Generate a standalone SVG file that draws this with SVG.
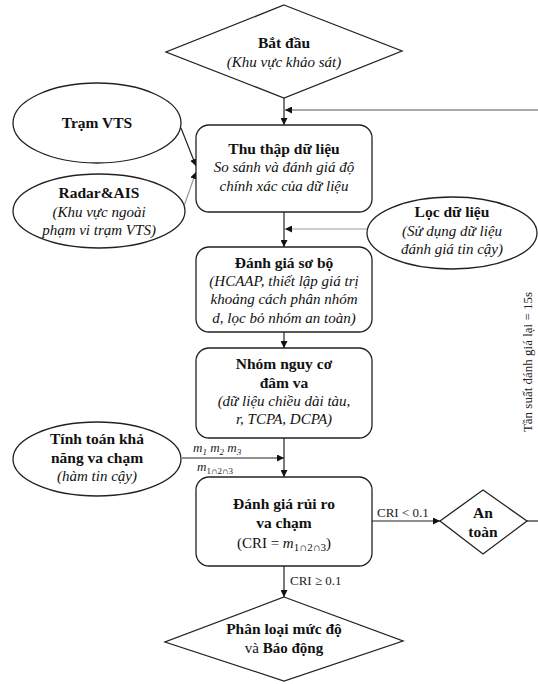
<svg xmlns="http://www.w3.org/2000/svg" width="538" height="684" viewBox="0 0 538 684">
<style>
.sh{fill:#fff;stroke:#222;stroke-width:1.3}
.c{stroke:#222;stroke-width:1.2;fill:none}
.g{stroke:#9a9a9a}
.g2{stroke:#555}
.lab{font-family:"Liberation Serif","Times New Roman",serif;font-size:13px;fill:#222}
.nt{font-family:"Liberation Serif","Times New Roman",serif;font-size:15px;fill:#111;text-anchor:middle}
.nb{font-family:"Liberation Serif","Times New Roman",serif;font-size:15.5px;font-weight:bold;fill:#111;text-anchor:middle}
.ni{font-family:"Liberation Serif","Times New Roman",serif;font-size:15px;font-style:italic;fill:#111;text-anchor:middle}
</style>
<defs>
<marker id="ah" viewBox="0 0 10 10" refX="10" refY="5" markerWidth="7" markerHeight="7" markerUnits="userSpaceOnUse" orient="auto">
<path d="M0,0 L10,5 L0,10 z" fill="#111"/>
</marker>
</defs>
<rect width="538" height="684" fill="#fff"/>
<g id="connectors">
<line class="c" x1="284" y1="98" x2="284" y2="125" marker-end="url(#ah)"/>
<line class="c g2" x1="538" y1="110" x2="285" y2="110" marker-end="url(#ah)"/>
<line class="c" x1="181" y1="128" x2="196" y2="166" marker-end="url(#ah)"/>
<line class="c g" x1="184" y1="206" x2="196" y2="172" marker-end="url(#ah)"/>
<line class="c" x1="284" y1="212" x2="284" y2="247" marker-end="url(#ah)"/>
<line class="c g" x1="367" y1="229" x2="285" y2="229" marker-end="url(#ah)"/>
<line class="c" x1="284" y1="332" x2="284" y2="348" marker-end="url(#ah)"/>
<line class="c" x1="284" y1="438" x2="284" y2="477" marker-end="url(#ah)"/>
<line class="c" x1="182" y1="458" x2="284" y2="458" marker-end="url(#ah)"/>
<line class="c" x1="372" y1="521" x2="440" y2="521" marker-end="url(#ah)"/>
<line class="c" x1="527" y1="521" x2="538" y2="521"/>
<line class="c" x1="284" y1="566" x2="284" y2="597" marker-end="url(#ah)"/>
<text class="lab" font-style="italic" x="193" y="452">m<tspan font-size="9" dy="3">1</tspan><tspan dy="-3"> m</tspan><tspan font-size="9" dy="3">2</tspan><tspan dy="-3"> m</tspan><tspan font-size="9" dy="3">3</tspan></text>
<text class="lab" font-style="italic" x="197" y="471">m<tspan font-size="9" dy="3" font-style="normal">1∩2∩3</tspan></text>
<text class="lab" x="377" y="517">CRI &lt; 0.1</text>
<text class="lab" x="290" y="585">CRI ≥ 0.1</text>
<text class="lab" transform="translate(532,362) rotate(-90)" text-anchor="middle">Tần suất đánh giá lại = 15s</text>
</g>
<g id="start">
<polygon class="sh" points="284,5 402,51 284,98 166,52"/>
<text class="nb" x="284" y="48">Bắt đầu</text>
<text class="ni" x="284" y="67">(Khu vực khảo sát)</text>
</g>
<g id="vts">
<ellipse class="sh" cx="97" cy="123" rx="84" ry="40"/>
<text class="nb" x="97" y="128">Trạm VTS</text>
</g>
<g id="radar">
<ellipse class="sh" cx="99" cy="211" rx="86" ry="37"/>
<text class="nb" x="99" y="198">Radar&amp;AIS</text>
<text class="ni" x="99" y="217">(Khu vực ngoài</text>
<text class="ni" x="99" y="235">phạm vi trạm VTS)</text>
</g>
<g id="collect">
<rect class="sh" x="196" y="125" width="176" height="87" rx="13"/>
<text class="nb" x="284" y="154">Thu thập dữ liệu</text>
<text class="ni" x="284" y="172">So sánh và đánh giá độ</text>
<text class="ni" x="284" y="191">chính xác của dữ liệu</text>
</g>
<g id="filter">
<ellipse class="sh" cx="452" cy="233" rx="85" ry="36"/>
<text class="nb" x="452" y="217">Lọc dữ liệu</text>
<text class="ni" x="452" y="236">(Sử dụng dữ liệu</text>
<text class="ni" x="452" y="254">đánh giá tin cậy)</text>
</g>
<g id="prelim">
<rect class="sh" x="196" y="247" width="176" height="85" rx="13"/>
<text class="nb" x="284" y="268">Đánh giá sơ bộ</text>
<text class="ni" x="284" y="286">(HCAAP, thiết lập giá trị</text>
<text class="ni" x="284" y="304">khoảng cách phân nhóm</text>
<text class="ni" x="284" y="323">d, lọc bỏ nhóm an toàn)</text>
</g>
<g id="group">
<rect class="sh" x="196" y="348" width="176" height="90" rx="13"/>
<text class="nb" x="284" y="369">Nhóm nguy cơ</text>
<text class="nb" x="284" y="388">đâm va</text>
<text class="ni" x="284" y="406">(dữ liệu chiều dài tàu,</text>
<text class="ni" x="284" y="424">r, TCPA, DCPA)</text>
</g>
<g id="compute">
<ellipse class="sh" cx="97" cy="459" rx="84" ry="37"/>
<text class="nb" x="97" y="444">Tính toán khả</text>
<text class="nb" x="97" y="463">năng va chạm</text>
<text class="ni" x="97" y="481">(hàm tin cậy)</text>
</g>
<g id="risk">
<rect class="sh" x="196" y="477" width="176" height="89" rx="13"/>
<text class="nb" x="284" y="509">Đánh giá rủi ro</text>
<text class="nb" x="284" y="528">va chạm</text>
<text class="nt" x="284" y="548">(CRI = <tspan font-style="italic">m</tspan><tspan font-size="11" dy="3">1∩2∩3</tspan><tspan dy="-3">)</tspan></text>
</g>
<g id="safe">
<polygon class="sh" points="483,490 527,521 483,554 440,521"/>
<text class="nb" x="483" y="518">An</text>
<text class="nb" x="483" y="537">toàn</text>
</g>
<g id="alarm">
<polygon class="sh" points="284,597 403,641 284,681 165,642"/>
<text class="nb" x="284" y="634">Phân loại mức độ</text>
<text class="nt" x="284" y="653">và <tspan font-weight="bold">Báo động</tspan></text>
</g>
</svg>
